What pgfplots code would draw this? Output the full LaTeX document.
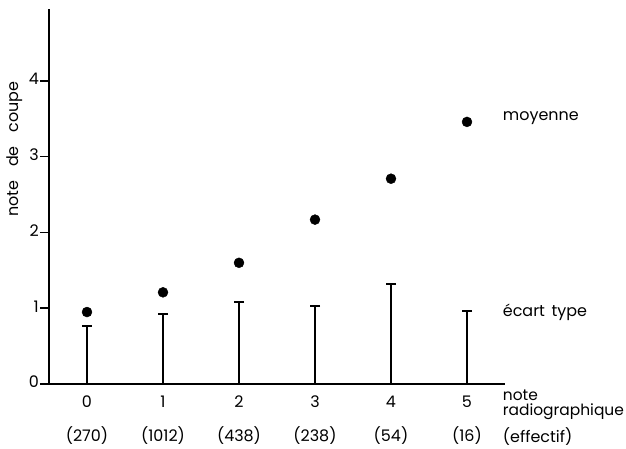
\documentclass[border=0pt]{standalone}
\usepackage{fontspec}
\setmainfont{Poppins}
\usepackage{pgfplots}
\pgfplotsset{compat=1.18}
\begin{document}
\begin{tikzpicture}[font=\fontsize{16}{18}\selectfont]
\useasboundingbox (-87bp,-65bp) rectangle (539bp,384bp);
\begin{axis}[
  at={(0,0)}, anchor=origin,
  x=76bp, y=75.75bp,
  xmin=-0.5, xmax=5.5, ymin=0, ymax=4.95,
  axis x line=bottom, axis y line=left,
  axis line style={-, line width=2bp, black},
  clip=false,
  /pgf/number format/assume math mode=true,
  ytick={0,1,2,3,4},
  xtick={0,1,2,3,4,5},
  xticklabels={{0\\[16bp](270)},{1\\[16bp](1012)},{2\\[16bp](438)},{3\\[16bp](238)},{4\\[16bp](54)},{5\\[16bp](16)}},
  xticklabel style={align=center, inner sep=0pt, yshift=-3bp},
  yticklabel style={inner sep=1bp, yshift=2bp},
  tick align=outside,
  major tick length=9bp,
  xtick style={draw=none},
  ytick style={line width=1.5bp, black},
]
\addplot[ycomb, black, line width=1.8bp, mark=-, mark size=5bp, mark options={line width=2bp}]
  coordinates {(0,0.77) (1,0.92) (2,1.08) (3,1.03) (4,1.32) (5,0.96)};
\addplot[only marks, black, mark=*, mark size=5bp]
  coordinates {(0,0.95) (1,1.21) (2,1.60) (3,2.17) (4,2.71) (5,3.46)};
\node[anchor=west, inner sep=0pt] at (axis cs:5.47,3.51) {moyenne};
\node[anchor=west, inner sep=0pt] at (axis cs:5.47,0.95) {écart\hspace{0.15em} type};
\node[anchor=north west, inner sep=0pt, align=left, font=\fontsize{15.5}{15}\selectfont] at (axis cs:5.47,-0.08) {note\\radiographique};
\node[anchor=west, inner sep=0pt] at (axis cs:5.47,-0.70) {(effectif)};
\node[rotate=90, anchor=center, inner sep=0pt] at (axis cs:-0.95,3.10) {note\hspace{0.6em} de\hspace{0.6em} coupe};
\end{axis}
\end{tikzpicture}
\end{document}
